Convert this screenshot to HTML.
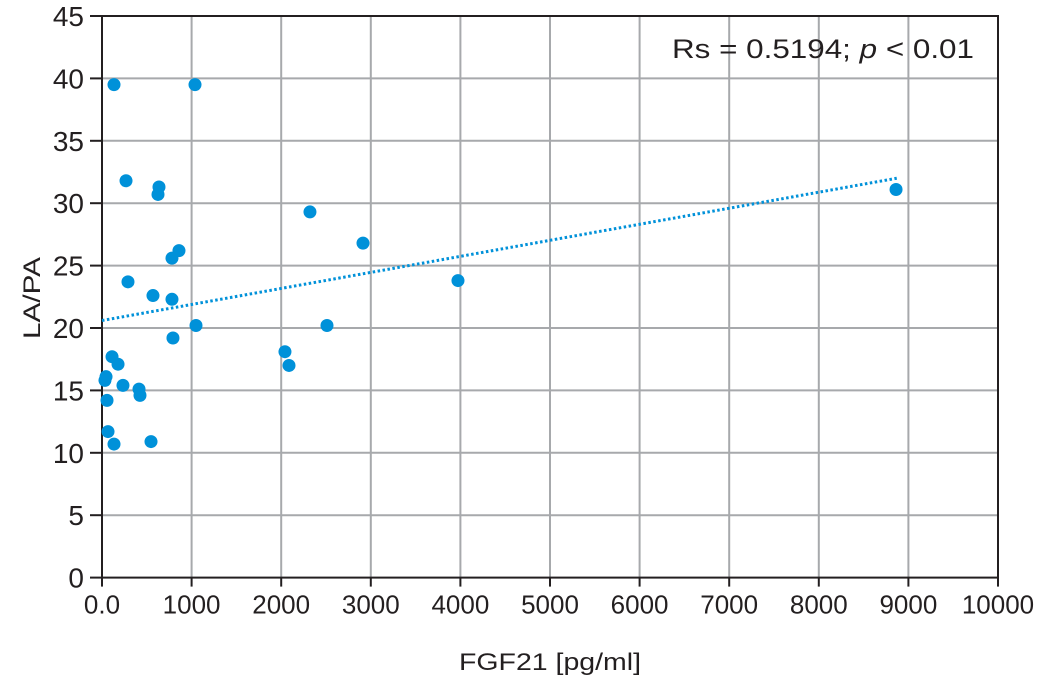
<!DOCTYPE html>
<html><head><meta charset="utf-8"><style>
body{margin:0;background:#fff;}
svg{display:block;font-family:"Liberation Sans",sans-serif;}
</style></head><body>
<svg id="chart" width="1040" height="684" viewBox="0 0 1040 684" xmlns="http://www.w3.org/2000/svg">
<g id="grid"></g>
<g id="axes"></g>
<g id="marks"></g>
<text x="40" y="298" transform="rotate(-90 40 298)" text-anchor="middle" font-size="24" fill="#231f20" textLength="82" lengthAdjust="spacingAndGlyphs">LA/PA</text>
<text x="550" y="670" text-anchor="middle" font-size="24" fill="#231f20" textLength="182" lengthAdjust="spacingAndGlyphs">FGF21 [pg/ml]</text>
<text x="974" y="58" text-anchor="end" font-size="27" fill="#231f20" textLength="302" lengthAdjust="spacingAndGlyphs">Rs = 0.5194; <tspan font-style="italic">p</tspan> &lt; 0.01</text>
</svg>
<script>
const xVals=[134,1038,268,636,625,859,781,290,569,781,1049,792,112,179,45,33,234,413,424,56,67,134,547,2042,2087,2321,2511,2913,3973,8862];
const yVals=[39.5,39.5,31.8,31.3,30.7,26.2,25.6,23.7,22.6,22.3,20.2,19.2,17.7,17.1,16.1,15.8,15.4,15.1,14.6,14.2,11.7,10.7,10.9,18.1,17.0,29.3,20.2,26.8,23.8,31.1];
const xTicks=[0,1000,2000,3000,4000,5000,6000,7000,8000,9000,10000];
const xTickLabels=["0.0","1000","2000","3000","4000","5000","6000","7000","8000","9000","10000"];
const yTicks=[0,5,10,15,20,25,30,35,40,45];
const trendX=[0,8870];
const trendY=[20.6,32.0];
const X0=102,X1=998,Y0=577.6,Y1=16;
const sx=v=>X0+(v/10000)*(X1-X0);
const sy=v=>Y0-(v/45)*(Y0-Y1);
const NS="http://www.w3.org/2000/svg";
function mk(tag,attrs,parent,txt){const e=document.createElementNS(NS,tag);for(const k in attrs)e.setAttribute(k,attrs[k]);if(txt!==undefined)e.textContent=txt;document.getElementById(parent).appendChild(e);return e;}
xTicks.forEach((t,i)=>{
 if(i>0&&i<xTicks.length-1){const g=mk('line',{x1:sx(t),x2:sx(t),y1:Y1,y2:Y0,stroke:'#a7a9ac','stroke-width':2},'grid');
 
 }
 const tk=mk('line',{x1:sx(t),x2:sx(t),y1:Y0,y2:Y0+9,stroke:'#231f20','stroke-width':2},'axes');
 
 
 const lb=mk('text',{x:sx(t),y:Y0+36,'text-anchor':'middle','font-size':26,fill:'#231f20'},'axes',xTickLabels[i]);
 
 
});
yTicks.forEach(t=>{
 if(t>0&&t<45){const g=mk('line',{x1:X0,x2:X1,y1:sy(t),y2:sy(t),stroke:'#a7a9ac','stroke-width':2},'grid');
 
 }
 const tk=mk('line',{x1:X0-12,x2:X0,y1:sy(t),y2:sy(t),stroke:'#231f20','stroke-width':2},'axes');
 
 
 const lb=mk('text',{x:X0-18,y:sy(t)+10,'text-anchor':'end','font-size':28,fill:'#231f20'},'axes',String(t));
 
 
});
const fr=mk('rect',{x:X0,y:Y1,width:X1-X0,height:Y0-Y1,fill:'none',stroke:'#231f20','stroke-width':2},'axes');


xVals.forEach((v,i)=>{
 const c=mk('circle',{cx:sx(v),cy:sy(yVals[i]),r:6.5,fill:'#0091d9'},'marks');
 
 
});
const tl=mk('line',{x1:sx(trendX[0]),y1:sy(trendY[0]),x2:sx(trendX[1]),y2:sy(trendY[1]),stroke:'#0091d9','stroke-width':3,'stroke-dasharray':'2.5 2.5'},'marks');


</script>
</body></html>
